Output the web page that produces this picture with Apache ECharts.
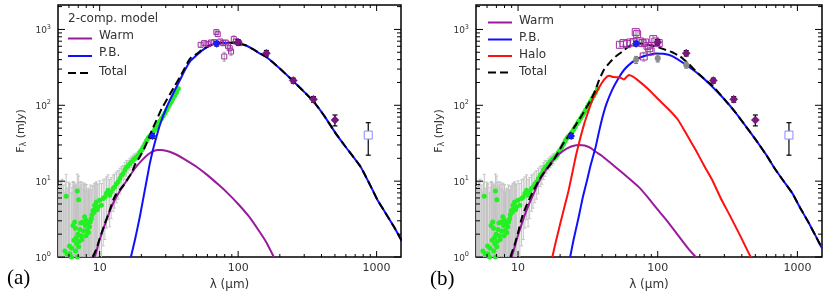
<!DOCTYPE html>
<html><head><meta charset="utf-8">
<script src="https://cdn.jsdelivr.net/npm/echarts@6/dist/echarts.min.js"></script>
<style>html,body{margin:0;padding:0;background:#fff}#c{width:830px;height:302px}</style>
</head><body><div id="c"></div>
<script>
// ---------- axis ranges / ticks ----------
const X_MIN = 5, X_MAX = 1500, Y_MIN = 1, Y_MAX = 2100;
const X_MAJOR = [10, 100, 1000];
const X_MINOR = [6, 7, 8, 9, 20, 30, 40, 50, 60, 70, 80, 90, 200, 300, 400, 500, 600, 700, 800, 900];
const Y_MAJOR = [1, 10, 100, 1000];
const Y_MINOR = [2, 3, 4, 5, 6, 7, 8, 9, 20, 30, 40, 50, 60, 70, 80, 90, 200, 300, 400, 500, 600, 700, 800, 900, 2000];

// ---------- observed data (shared by both panels) ----------
// IRS spectrum (green points, grey error bars)
const IRS_L = [5.05, 5.1, 5.15, 5.2, 5.3, 5.35, 5.45, 5.5, 5.6, 5.65, 5.73, 5.8, 5.9, 5.95, 6.05, 6.1, 6.24, 6.3, 6.41, 6.45, 6.52, 6.59, 6.67, 6.7, 6.78, 6.81, 6.89, 6.9, 6.97, 7.05, 7.05, 7.1, 7.2, 7.3, 7.35, 7.45, 7.57, 7.65, 7.78, 7.87, 7.95, 8.0, 8.13, 8.22, 8.3, 8.45, 8.55, 8.7, 8.8, 8.95, 9.1, 9.2, 9.35, 9.46, 9.6, 9.73, 10.0, 10.3, 10.6, 10.9, 11.2, 11.5, 11.8, 12.1, 12.5, 12.8, 13.2, 13.6, 14.0, 14.4, 14.8, 15.2, 15.6, 16.0, 16.5, 17.0, 17.5, 17.9, 18.5, 19.0, 19.5, 20.1, 20.6, 21.2, 21.8, 22.4, 23.0, 23.7, 24.3, 25.0, 25.7, 26.5, 27.2, 28.0, 28.8, 29.6, 30.4, 31.3, 32.1, 33.0, 33.9, 34.9, 35.9, 37.0];
const IRS_F = [0.8, 0.5, 0.6, 0.7, 0.9, 0.6, 0.7, 0.9, 1.2, 0.8, 6.3, 1.1, 0.9, 0.7, 1.4, 1.1, 1.0, 1.3, 2.6, 0.9, 1.66, 2.9, 2.4, 1.2, 1.8, 1.5, 7.4, 1.0, 2.0, 5.7, 1.36, 1.6, 2.3, 2.8, 1.9, 1.7, 2.9, 2.2, 3.4, 2.6, 1.9, 3.05, 2.25, 2.76, 2.1, 2.5, 2.9, 3.2, 3.6, 4.1, 3.9, 4.8, 4.5, 5.3, 4.2, 4.6, 5.6, 4.8, 5.9, 6.2, 6.9, 7.6, 6.5, 7.2, 8.0, 8.4, 9.2, 9.8, 10.8, 12.0, 12.6, 14.0, 15.1, 15.8, 17.0, 18.0, 19.0, 19.9, 21.0, 22.0, 24.0, 25.6, 28.0, 31.0, 34.0, 37.0, 39.0, 41.0, 44.0, 48.0, 52.0, 57.0, 62.0, 67.0, 73.0, 79.0, 86.0, 95.0, 103.0, 112.0, 123.0, 135.0, 148.0, 165.0];
const IRS_E = [7, 8, 8, 9, 9, 10, 7, 8, 6, 9, 6, 7, 7, 9, 8, 8, 6, 7, 7, 9, 8, 6, 6, 8, 7, 6, 5, 7, 6, 6, 5, 8, 6, 7, 7, 8, 5, 7, 6, 5, 7, 6, 5, 5, 6, 5, 6, 4.5, 5, 4.5, 5, 4.5, 5, 4.5, 5, 4.5, 4.5, 4.5, 4.5, 4.5, 4.5, 4.5, 4, 4, 4, 4, 4, 4, 4, 3.5, 3.5, 3.5, 3.5, 3, 3, 3, 3, 3, 2.5, 2.5, 2.5, 2.5, 2.5, 2.5, 2.5, 2.5, 2.5, 3, 3, 3, 3, 3, 3.5, 4, 4, 4, 5, 5, 6, 6, 7, 8, 9, 10];
// PACS spectrum (open purple squares)
const PACS_L = [53.6, 56.9, 60.3, 63.7, 67.3, 69.6, 71.2, 74.4, 77.9, 79.4, 81.3, 84.5, 86.9, 88.9, 93.0, 96.2, 101.7];
const PACS_F = [627, 660, 640, 673, 680, 922, 867, 694, 660, 440, 673, 608, 566, 512, 745, 694, 660];
const PACS_E = [40, 40, 40, 40, 40, 60, 60, 40, 50, 60, 40, 50, 60, 60, 80, 50, 40];
// photometry (dark purple diamonds)
const PHOT_L = [100, 160, 250, 350, 500];
const PHOT_F = [680, 487, 212, 120, 64];
const PHOT_E = [55, 40, 16, 10, 10.5];
// MIPS 24/70 (blue points)
const MIPS_L = [24, 70];
const MIPS_F = [39.5, 650];
const MIPS_E = [3, 45];
// sub-mm (open light-blue square)
const SUBMM_L = [870];
const SUBMM_F = [40.5];
const SUBMM_E = [18.5];
// panel (b) grey points
const GREY_L = [70, 100, 160];
const GREY_F = [398, 418, 341];
const GREY_E = [42, 45, 32];

// ---------- models, panel (a) ----------
const A_WARM_L = [9.2, 9.6, 10, 11, 12, 13, 14, 16, 18, 20, 22, 24, 26, 28, 32, 36, 40, 50, 60, 73, 85, 100, 120, 144, 160, 181];
const A_WARM_F = [1.0, 1.3, 1.7, 2.8, 4.3, 5.9, 7.4, 10.8, 14.8, 18.5, 22.0, 24.5, 25.8, 25.7, 24.4, 22.3, 20.0, 15.5, 12.0, 8.8, 6.8, 5.0, 3.4, 2.1, 1.55, 1.0];
const A_PB_L = [16.8, 18, 19.5, 21, 22, 23, 24, 25, 26.5, 28, 30, 32, 35, 38, 41, 45, 50, 55, 62, 70, 80, 90, 100, 115, 129, 144, 161, 200, 252, 300, 351, 420, 505, 600, 766, 900, 1012, 1150, 1334, 1535];
const A_PB_F = [1.0, 1.7, 3.4, 7, 11, 17, 24, 32, 47, 64, 88, 115, 160, 215, 285, 380, 455, 530, 610, 655, 665, 665, 655, 610, 545, 480, 430, 305, 205, 150, 112, 72, 43, 28, 15.5, 8.8, 5.7, 3.9, 2.5, 1.58];
const A_TOT_L = [8.9, 9.5, 10, 11, 11.8, 12.5, 13.2, 14, 15, 16, 17, 18, 19.5, 21, 22, 23, 24, 25, 26.5, 28, 30, 32, 35, 38, 41, 44, 46, 50, 55, 61, 66, 70, 80, 90, 100, 115, 129, 144, 161, 200, 252, 300, 351, 420, 505, 600, 766, 900, 1012, 1150, 1334, 1535];
const A_TOT_F = [1.0, 1.3, 1.75, 2.9, 4.1, 5.6, 6.8, 7.7, 9.0, 10.8, 12.8, 16.5, 21, 27, 33, 40, 48, 57, 72, 90, 112, 138, 182, 236, 305, 390, 430, 472, 545, 600, 635, 665, 672, 670, 658, 612, 545, 480, 430, 305, 205, 150, 112, 72, 43, 28, 15.5, 8.8, 5.7, 3.9, 2.5, 1.58];

// ---------- models, panel (b) ----------
const B_WARM_L = [9.0, 9.5, 10, 11, 12, 13, 14, 16, 18.5, 21, 24, 27, 30, 33, 36, 40, 48.5, 60, 73, 85, 100, 120, 144, 165, 187];
const B_WARM_F = [1.0, 1.4, 1.95, 3.3, 5.0, 7.0, 9.6, 14.5, 20.5, 25, 28.6, 30, 29.5, 27.5, 24.4, 21.5, 16, 11.5, 8.4, 6.1, 4.2, 2.8, 1.8, 1.3, 1.0];
const B_PB_L = [23.6, 25, 27.2, 29, 31.2, 33, 35.9, 38, 40, 43, 47.2, 52, 57.3, 65, 73, 85, 97, 110, 127, 158, 200, 246, 300, 361, 430, 504, 600, 700, 800, 921, 1050, 1213, 1350, 1500];
const B_PB_F = [1.0, 1.7, 3.4, 6, 10.3, 16, 28, 45, 67, 105, 160, 222, 292, 365, 417, 460, 482, 478, 445, 345, 250, 176, 120, 80, 52, 35, 22, 14, 9.9, 6.9, 4.4, 2.76, 1.9, 1.3];
const B_HALO_L = [17.6, 18.5, 20, 21.5, 23, 24.5, 26, 28, 30, 32, 34, 36, 40, 43.4, 45, 48, 52, 55, 57.3, 60, 62.2, 66, 73, 85, 100, 120, 140, 158, 187, 215, 246, 282, 324, 390, 451, 465];
const B_HALO_F = [1.0, 1.5, 2.7, 4.6, 7.5, 13, 22, 38, 60, 85, 118, 144, 200, 239, 245, 236, 234, 228, 218, 238, 251, 240, 210, 165, 122, 88, 64, 44, 25.7, 16, 10.3, 6, 3.7, 1.9, 1.1, 1.0];
const B_TOT_L = [8.8, 9.5, 10, 10.7, 11.5, 12.6, 14.1, 15, 16.6, 18, 19.6, 21, 23.1, 25, 27, 28.8, 31, 33, 35.9, 38, 41.1, 45.9, 50, 55.7, 60, 65.6, 73, 80, 90, 100, 110, 127, 145, 167, 190, 220, 246, 300, 361, 430, 504, 600, 700, 800, 921, 1050, 1213, 1350, 1500];
const B_TOT_F = [1.0, 1.5, 2.1, 3.4, 4.8, 6.9, 10.3, 12.3, 15.5, 19, 25, 31, 40, 50, 62, 75, 95, 115, 160, 215, 292, 377, 440, 510, 570, 626, 660, 645, 615, 585, 550, 500, 440, 350, 275, 215, 183, 120, 80, 52, 35, 22, 14, 9.9, 6.9, 4.4, 2.76, 1.9, 1.3];

// ---------- helpers ----------
const zip = (a, b) => a.map((v, i) => [v, b[i]]);
const zip3 = (a, b, c) => a.map((v, i) => [v, b[i], c[i]]);
const FONT = '"DejaVu Sans", sans-serif';
const TXT = '#333';

function errItem(color, cap, lw) {
  return function (params, api) {
    const x = api.value(0), y = api.value(1), e = api.value(2);
    const lo = Math.max(y - e, Y_MIN), hi = Math.min(y + e, Y_MAX);
    const a = api.coord([x, lo]), b = api.coord([x, hi]);
    const st = { stroke: color, lineWidth: lw };
    const ch = [{ type: 'line', shape: { x1: a[0], y1: a[1], x2: b[0], y2: b[1] }, style: st }];
    if (y - e > Y_MIN) ch.push({ type: 'line', shape: { x1: a[0] - cap, y1: a[1], x2: a[0] + cap, y2: a[1] }, style: st });
    ch.push({ type: 'line', shape: { x1: b[0] - cap, y1: b[1], x2: b[0] + cap, y2: b[1] }, style: st });
    return { type: 'group', children: ch };
  };
}
function tickItem(params, api) {
  const kind = api.value(2);
  const st = { stroke: '#000', lineWidth: 1 };
  const L = (x1, y1, x2, y2) => ({ type: 'line', shape: { x1, y1, x2, y2 }, style: st });
  if (kind < 2) {
    const v = api.value(0);
    const b = api.coord([v, Y_MIN]), t = api.coord([v, Y_MAX]);
    const len = kind === 0 ? 6 : 3;
    return { type: 'group', children: [L(b[0], b[1], b[0], b[1] - len), L(t[0], t[1], t[0], t[1] + len)] };
  } else {
    const v = api.value(1);
    const l = api.coord([X_MIN, v]), r = api.coord([X_MAX, v]);
    const len = kind === 2 ? 7 : 4;
    return { type: 'group', children: [L(l[0], l[1], l[0] + len, l[1]), L(r[0], r[1], r[0] - len, r[1])] };
  }
}
const TICK_DATA = [].concat(
  X_MAJOR.map(v => [v, Y_MIN, 0]), X_MINOR.map(v => [v, Y_MIN, 1]),
  Y_MAJOR.map(v => [X_MIN, v, 2]), Y_MINOR.map(v => [X_MIN, v, 3]));

function isPow(v) { const l = Math.log10(v); return Math.abs(l - Math.round(l)) < 1e-6; }

const grids = [
  { left: 58, top: 5, width: 343, height: 252, show: true, borderColor: '#000', borderWidth: 1.5, backgroundColor: 'transparent' },
  { left: 476, top: 5, width: 346, height: 252, show: true, borderColor: '#000', borderWidth: 1.5, backgroundColor: 'transparent' }
];
const xAxes = [0, 1].map(i => ({
  type: 'log', logBase: 10, gridIndex: i, min: X_MIN, max: X_MAX,
  axisLine: { show: false }, axisTick: { show: false }, splitLine: { show: false },
  axisLabel: { margin: 6, fontSize: 11, color: TXT, fontFamily: FONT, formatter: v => isPow(v) ? String(Math.round(v)) : '' },
  name: 'λ (μm)', nameLocation: 'middle', nameGap: 19,
  nameTextStyle: { fontSize: 12, color: TXT, fontFamily: FONT }
}));
const yAxes = [0, 1].map(i => ({
  type: 'log', logBase: 10, gridIndex: i, min: Y_MIN, max: Y_MAX,
  axisLine: { show: false }, axisTick: { show: false }, splitLine: { show: false },
  axisLabel: {
    margin: 7, formatter: v => isPow(v) ? '{b|10}{s|' + Math.round(Math.log10(v)) + '}' : '',
    rich: {
      b: { fontSize: 9, color: TXT, fontFamily: FONT, verticalAlign: 'bottom', lineHeight: 12 },
      s: { fontSize: 6.5, color: TXT, fontFamily: FONT, verticalAlign: 'top', lineHeight: 6 }
    }
  },
  name: '{a|F}{l|λ}{a| (mJy)}', nameLocation: 'middle', nameGap: 30, nameRotate: 90,
  nameTextStyle: {
    rich: {
      a: { fontSize: 11, color: TXT, fontFamily: FONT, verticalAlign: 'top', lineHeight: 12 },
      l: { fontSize: 8, color: TXT, fontFamily: FONT, verticalAlign: 'bottom', lineHeight: 6 }
    }
  }
}));

function lineS(i, data, color, dashed) {
  return {
    type: 'line', xAxisIndex: i, yAxisIndex: i, data, showSymbol: false, symbol: 'none',
    smooth: 0.12, z: 3, silent: true,
    lineStyle: { color, width: 2, type: dashed ? [8, 4] : 'solid', join: 'round' }
  };
}
function errS(i, data, color, cap, lw, z) {
  return { type: 'custom', xAxisIndex: i, yAxisIndex: i, data, renderItem: errItem(color, cap, lw), z: z, silent: true, clip: true };
}
function scat(i, data, symbol, size, fill, stroke, bw, z) {
  return {
    type: 'scatter', xAxisIndex: i, yAxisIndex: i, data, symbol, symbolSize: size, z: z, silent: true,
    itemStyle: { color: fill, borderColor: stroke, borderWidth: bw, opacity: 1 }
  };
}

const series = [];
[0, 1].forEach(i => {
  series.push({ type: 'custom', xAxisIndex: i, yAxisIndex: i, data: TICK_DATA, renderItem: tickItem, z: 6, silent: true });
  series.push(errS(i, zip3(IRS_L, IRS_F, IRS_E), '#c4c4c4', 1.5, 1, 1));
  series.push(scat(i, zip(IRS_L, IRS_F), 'circle', 5, '#22f022', '#22f022', 0, 2));
  series.push(errS(i, zip3(PACS_L, PACS_F, PACS_E), '#a8a8a8', 1.5, 1, 2));
});
// panel (a) models
series.push(lineS(0, zip(A_WARM_L, A_WARM_F), '#9a1a9e', false));
series.push(lineS(0, zip(A_PB_L, A_PB_F), '#1010ff', false));
series.push(lineS(0, zip(A_TOT_L, A_TOT_F), '#000000', true));
// panel (b) models
series.push(lineS(1, zip(B_WARM_L, B_WARM_F), '#9a1a9e', false));
series.push(lineS(1, zip(B_PB_L, B_PB_F), '#1010ff', false));
series.push(lineS(1, zip(B_HALO_L, B_HALO_F), '#ff1010', false));
series.push(lineS(1, zip(B_TOT_L, B_TOT_F), '#000000', true));
// panel (b) grey points
series.push(errS(1, zip3(GREY_L, GREY_F, GREY_E), '#808080', 2, 1.2, 4));
series.push(scat(1, zip(GREY_L, GREY_F), 'circle', 6, '#8a8a8a', '#8a8a8a', 0, 4));
[0, 1].forEach(i => {
  series.push(scat(i, zip(PACS_L, PACS_F), 'rect', i === 0 ? 5 : 7, 'rgba(0,0,0,0)', '#a32aa8', 1, 4));
  series.push(errS(i, zip3(PHOT_L, PHOT_F, PHOT_E), '#000', 2.5, 1.2, 5));
  series.push(scat(i, zip(PHOT_L, PHOT_F), 'diamond', 8, '#7c1580', '#5a0a5e', 0.5, 5));
  series.push(errS(i, zip3(MIPS_L, MIPS_F, MIPS_E), '#000', 2.5, 1.2, 5));
  series.push(scat(i, zip(MIPS_L, MIPS_F), 'diamond', 8, '#1a1aff', '#1a1aff', 0, 5));
  series.push(errS(i, zip3(SUBMM_L, SUBMM_F, SUBMM_E), '#000', 2.5, 1.2, 5));
  series.push(scat(i, zip(SUBMM_L, SUBMM_F), 'rect', 8, '#ffffff', '#8a8aff', 1, 5));
});

// legends / panel labels
function legLine(x, y, color, dashed) {
  return { type: 'line', shape: { x1: x, y1: y, x2: x + 24, y2: y }, style: { stroke: color, lineWidth: 2, lineDash: dashed ? [8, 4] : null }, z: 10 };
}
function legText(x, y, t, size, font) {
  return { type: 'text', x: x, y: y, style: { text: t, fill: font ? '#000' : TXT, font: (size || 12) + 'px ' + (font || FONT), verticalAlign: 'middle', align: 'left' }, z: 10 };
}
const graphic = [
  legText(68, 19, '2-comp. model'),
  legLine(68, 38.5, '#9a1a9e'), legText(99, 35.5, 'Warm'),
  legLine(68, 56, '#1010ff'), legText(99, 53, 'P.B.'),
  legLine(68, 73, '#000', true), legText(99, 71.5, 'Total'),
  legLine(488, 22.5, '#9a1a9e'), legText(519, 21, 'Warm'),
  legLine(488, 39.5, '#1010ff'), legText(519, 38, 'P.B.'),
  legLine(488, 56, '#ff1010'), legText(519, 55, 'Halo'),
  legLine(488, 72.5, '#000', true), legText(519, 71.5, 'Total'),
  legText(7, 278, '(a)', 21, '"Liberation Serif", serif'),
  legText(430, 279, '(b)', 21, '"Liberation Serif", serif')
];

const chart = echarts.init(document.getElementById('c'), null, { renderer: 'canvas' });
chart.setOption({
  animation: false, backgroundColor: '#fff',
  grid: grids, xAxis: xAxes, yAxis: yAxes, series, graphic
});
</script></body></html>
